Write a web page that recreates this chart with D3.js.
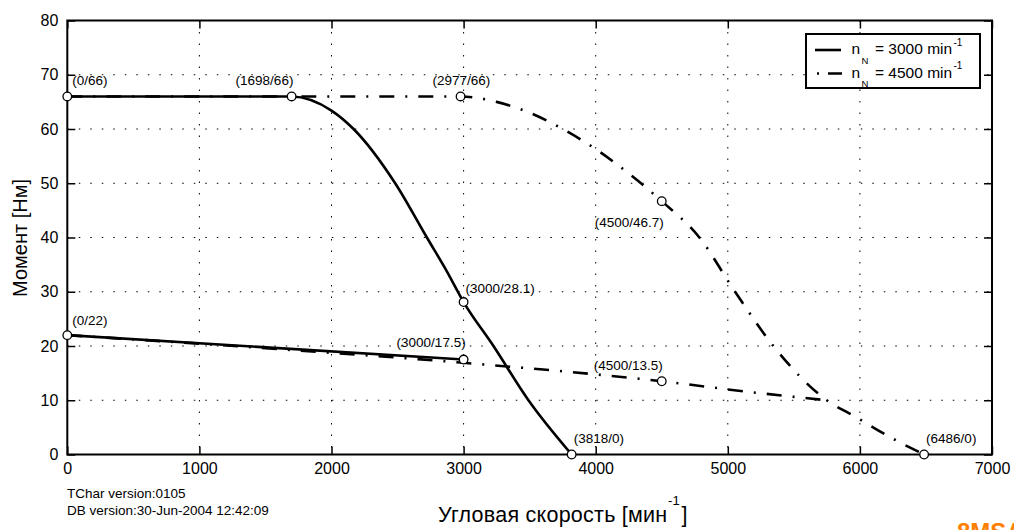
<!DOCTYPE html>
<html><head><meta charset="utf-8">
<script src="https://cdn.jsdelivr.net/npm/d3@7"></script>
<style>
html,body{margin:0;padding:0;background:#fff;}
svg{display:block;font-family:"Liberation Sans",Arial,Helvetica,sans-serif;}
</style></head>
<body>
<svg id="chart" width="1014" height="530"></svg>
<script>
// ---- data ----
const xTicks = [0,1000,2000,3000,4000,5000,6000,7000];
const yTicks = [0,10,20,30,40,50,60,70,80];
// n_N = 3000 min^-1 (solid)
const peak3000 = [[0,66],[1698,66],[2000,63.4],[2167,60],[2482,50],[2722,40],[2870,33.9],[3000,28.1],[3226,20],[3491,10],[3818,0]];
const cont3000 = [[0,22],[3000,17.5]];
// n_N = 4500 min^-1 (dash-dot)
const peak4500 = [[0,66],[2977,66],[3250,65.0],[3500,63.0],[3750,60.0],[4000,56.3],[4250,51.8],[4500,46.7],[4785,40],[5055,30],[5345,20],[5749,10],[5963,7.0],[6228,3.2],[6486,0]];
const cont4500 = [[0,22],[1500,19.6],[3000,16.9],[4500,13.5],[5138,11.6],[5749,10]];
const markers = [[0,66],[1698,66],[2977,66],[4500,46.7],[3000,28.1],[0,22],[3000,17.5],[4500,13.5],[3818,0],[6486,0]];
const markerLabels = ["(0/66)","(1698/66)","(2977/66)","(4500/46.7)","(3000/28.1)","(0/22)","(3000/17.5)","(4500/13.5)","(3818/0)","(6486/0)"];
const legendNames = ["3000","4500"];
const yTitle = "Момент [Нм]";
const xTitle = "Угловая скорость [мин";
const footer = ["TChar version:0105","DB version:30-Jun-2004 12:42:09"];

// ---- layout ----
const labelOffsets = [[5,-11.5],[-56,-11.5],[-28,-11.5],[-67,25.5],[2,-9],[5,-10],[-67,-13],[-68,-11.3],[2,-11.5],[2,-11.5]];
const svg = d3.select("#chart");
const L=67.3,R=992,T=20.5,B=454.5;
const x = d3.scaleLinear().domain([0,7000]).range([L,R]);
const y = d3.scaleLinear().domain([0,80]).range([B,T]);

// grid
const g = svg.append("g");
g.selectAll(".vg").data(xTicks.slice(1,-1)).enter().append("line")
 .attr("x1",d=>x(d)).attr("x2",d=>x(d)).attr("y1",T).attr("y2",B)
 .attr("stroke","#000").attr("stroke-width",1).attr("stroke-dasharray","1.5,10");
g.selectAll(".hg").data(yTicks.slice(1,-1)).enter().append("line")
 .attr("y1",d=>y(d)).attr("y2",d=>y(d)).attr("x1",L).attr("x2",R)
 .attr("stroke","#000").attr("stroke-width",1).attr("stroke-dasharray","1.5,10");

// axes
const fs=16;
const ax = svg.append("g").attr("transform",`translate(0,${B})`)
 .call(d3.axisBottom(x).tickValues(xTicks).tickSize(-8).tickPadding(8).tickFormat(d3.format("d")));
const ay = svg.append("g").attr("transform",`translate(${L},0)`)
 .call(d3.axisLeft(y).tickValues(yTicks).tickSize(-8).tickPadding(9).tickFormat(d3.format("d")));
const axt = svg.append("g").attr("transform",`translate(0,${T})`)
 .call(d3.axisTop(x).tickValues(xTicks).tickSize(-8).tickFormat(""));
const ayr = svg.append("g").attr("transform",`translate(${R},0)`)
 .call(d3.axisRight(y).tickValues(yTicks).tickSize(-8).tickFormat(""));
[ax,ay,axt,ayr].forEach(a=>{
  a.select(".domain").remove();
  a.selectAll(".tick line").attr("stroke","#000").attr("stroke-width",1.5);
  a.selectAll("text").attr("font-size",fs).attr("fill","#000").attr("font-family","Liberation Sans, Arial, sans-serif");
});

// curves
const line = d3.line().x(d=>x(d[0])).y(d=>y(d[1])).curve(d3.curveMonotoneX);
const dd = "15,11,2,11";
svg.append("path").datum(peak4500).attr("d",line).attr("fill","none").attr("stroke","#000").attr("stroke-width",2.6).attr("stroke-dasharray",dd);
svg.append("path").datum(cont4500).attr("d",line).attr("fill","none").attr("stroke","#000").attr("stroke-width",2.6).attr("stroke-dasharray",dd);
svg.append("path").datum(peak3000).attr("d",line).attr("fill","none").attr("stroke","#000").attr("stroke-width",2.6);
svg.append("path").datum(cont3000).attr("d",line).attr("fill","none").attr("stroke","#000").attr("stroke-width",2.6);

// frame
svg.append("rect").attr("x",L).attr("y",T).attr("width",R-L).attr("height",B-T)
 .attr("fill","none").attr("stroke","#000").attr("stroke-width",2);

// markers
svg.selectAll(".mk").data(markers).enter().append("circle")
 .attr("cx",d=>x(d[0])).attr("cy",d=>y(d[1])).attr("r",4.3)
 .attr("fill","#fff").attr("stroke","#000").attr("stroke-width",1.3);
svg.selectAll(".ml").data(markers).enter().append("text")
 .attr("x",(d,i)=>x(d[0])+labelOffsets[i][0]).attr("y",(d,i)=>y(d[1])+labelOffsets[i][1])
 .attr("font-size",13.5).text((d,i)=>markerLabels[i]);

// legend
const lg = svg.append("g");
lg.append("rect").attr("x",806).attr("y",34).attr("width",174).attr("height",54)
 .attr("fill","#fff").attr("stroke","#000").attr("stroke-width",2);
const ly=[50,73.5];
lg.append("line").attr("x1",815).attr("x2",841).attr("y1",ly[0]).attr("y2",ly[0]).attr("stroke","#000").attr("stroke-width",2.6);
lg.append("line").attr("x1",817).attr("x2",842).attr("y1",ly[1]).attr("y2",ly[1]).attr("stroke","#000").attr("stroke-width",2.6).attr("stroke-dasharray","2,9,15,11");
legendNames.forEach((n,i)=>{
  const by = ly[i]+4;
  const t = lg.append("text").attr("y",by).attr("font-size",15.5);
  t.append("tspan").attr("x",851.5).text("n");
  t.append("tspan").attr("x",861.5).attr("y",by+9.5).attr("font-size",9.5).text("N");
  t.append("tspan").attr("x",875).attr("y",by).text("= "+n+" min");
  t.append("tspan").attr("x",953.5).attr("y",by-8.5).attr("font-size",10).text("-1");
});

// axis titles
svg.append("text").attr("transform","translate(27,238) rotate(-90)")
 .attr("text-anchor","middle").attr("font-size",20).text(yTitle);
const xt = svg.append("text").attr("x",438).attr("y",522).attr("font-size",21.5).attr("letter-spacing",0.25);
xt.append("tspan").text(xTitle);
xt.append("tspan").attr("dy",-17).attr("dx",0.5).attr("font-size",13).text("-1");
xt.append("tspan").attr("dy",17).attr("dx",1.5).text("]");

// footer
footer.forEach((f,i)=>svg.append("text").attr("x",67).attr("y",498+i*17).attr("font-size",13.5).text(f));
svg.append("text").attr("x",957).attr("y",540).attr("font-size",24).attr("font-weight","bold").attr("fill","#ff8000").text("8MSA");
</script>
</body></html>
